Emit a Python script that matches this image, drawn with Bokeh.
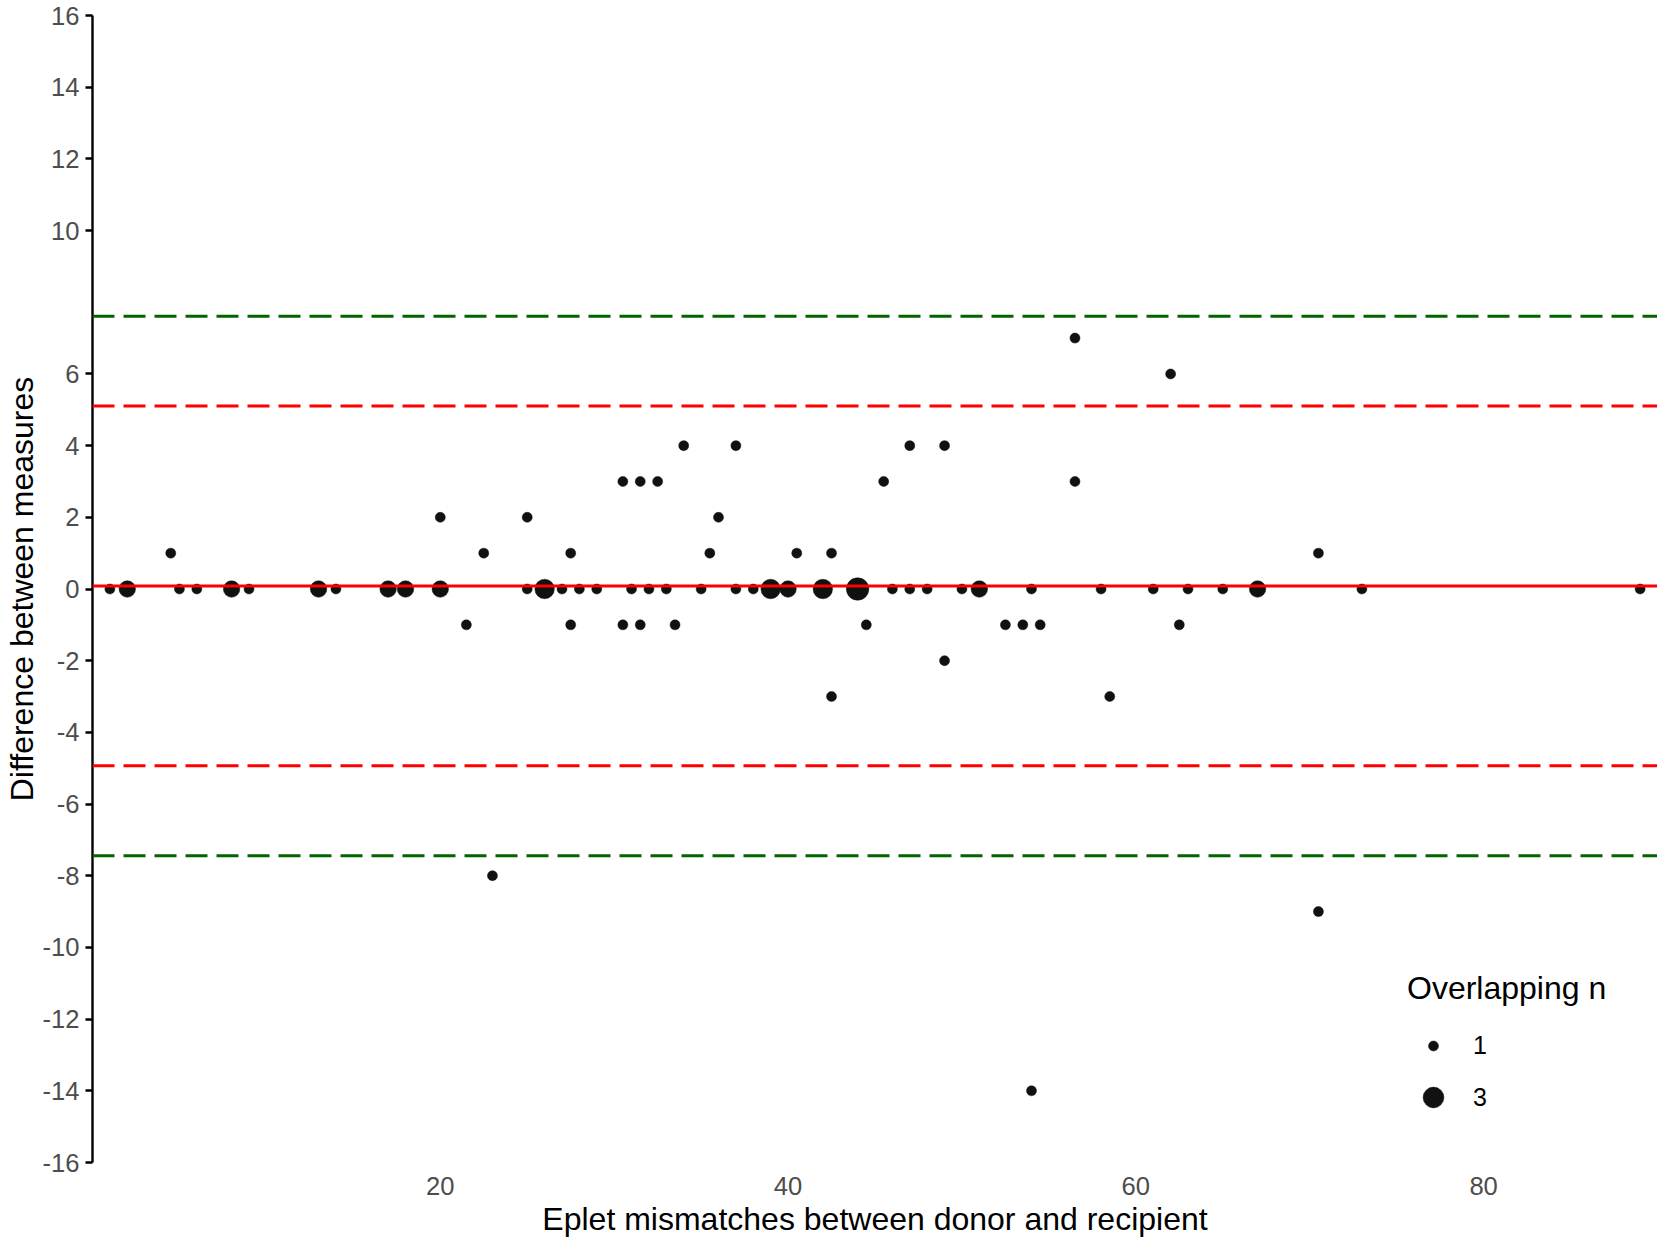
import numpy as np
from bokeh.plotting import figure
from bokeh.models import ColumnDataSource, Span, FixedTicker, Legend, LegendItem, Range1d
from bokeh.embed import file_html
from bokeh.resources import INLINE

# ---------------- data ----------------
# mean eplet mismatches (x), difference between measures (y), number of overlapping cases
mean_x = [1, 2, 5, 6, 8, 9, 13, 14, 17, 18, 20, 25, 26, 27, 28, 29, 31, 32, 33, 35,
          37, 38, 39, 40, 42, 44, 46, 47, 48, 50, 51, 54, 58, 61, 63, 65, 67, 73, 89,
          4.5, 22.5, 27.5, 35.5, 40.5, 42.5, 70.5,
          21.5, 27.5, 30.5, 31.5, 33.5, 44.5, 52.5, 53.5, 54.5, 62.5,
          20, 25, 36,
          49,
          30.5, 31.5, 32.5, 45.5, 56.5,
          42.5, 58.5,
          34, 37, 47, 49,
          62,
          56.5,
          23,
          70.5,
          54]
diff = [0] * 39 + \
       [1] * 7 + \
       [-1] * 10 + \
       [2] * 3 + \
       [-2] * 1 + \
       [3] * 5 + \
       [-3] * 2 + \
       [4] * 4 + \
       [6] * 1 + \
       [7] * 1 + \
       [-8] * 1 + \
       [-9] * 1 + \
       [-14] * 1
overlap_n = [1, 2, 1, 1, 2, 1, 2, 1, 2, 2, 2, 1, 3, 1, 1, 1, 1, 1, 1, 1,
             1, 1, 3, 2, 3, 4, 1, 1, 1, 1, 2, 1, 1, 1, 1, 1, 2, 1, 1] + [1] * 37

y_ticks = [-16, -14, -12, -10, -8, -6, -4, -2, 0, 2, 4, 6, 10, 12, 14, 16]
x_ticks = [20, 40, 60, 80]
legend_breaks = [1, 3]

x_label = "Eplet mismatches between donor and recipient"
y_label = "Difference between measures"
legend_title = "Overlapping n"

# Bland-Altman statistics from the (expanded) data
all_diffs = np.repeat(np.array(diff, dtype=float), overlap_n)
bias = all_diffs.mean()
sd = all_diffs.std(ddof=1)
inner_k, outer_k = 2, 3

# ---------------- styling ----------------
FONT = "Liberation Sans"
size_for_n = {1: 10, 2: 16.5, 3: 19.5, 4: 22.5}

p = figure(width=1657, height=1239, output_backend="svg", toolbar_location=None,
           x_range=Range1d(0, 90), y_range=Range1d(-16, 16),
           min_border_left=87, min_border_right=0, min_border_top=15, min_border_bottom=70,
           x_axis_label=x_label, y_axis_label=y_label)
p.outline_line_color = None
p.grid.visible = False
p.background_fill_color = "white"
p.border_fill_color = "white"

# y axis
ya = p.yaxis[0]
ya.ticker = FixedTicker(ticks=y_ticks)
ya.major_label_overrides = {t: str(t) for t in y_ticks}
ya.axis_line_color = "black"
ya.axis_line_width = 2.4
ya.major_tick_line_color = "black"
ya.major_tick_line_width = 2.4
ya.major_tick_in = 0
ya.major_tick_out = 7
ya.minor_tick_line_color = None
ya.major_label_standoff = 6
ya.major_label_text_font = FONT
ya.major_label_text_font_size = "25.6px"
ya.major_label_text_color = "#4D4D4D"
ya.axis_label_text_font = FONT
ya.axis_label_text_font_size = "32px"
ya.axis_label_text_font_style = "normal"
ya.axis_label_text_color = "black"
ya.axis_label_standoff = 0

# x axis
xa = p.xaxis[0]
xa.ticker = FixedTicker(ticks=x_ticks)
xa.major_label_overrides = {t: str(t) for t in x_ticks}
xa.axis_line_color = None
xa.major_tick_line_color = None
xa.minor_tick_line_color = None
xa.major_tick_in = 0
xa.major_tick_out = 0
xa.major_label_standoff = 14
xa.major_label_text_font = FONT
xa.major_label_text_font_size = "25.6px"
xa.major_label_text_color = "#4D4D4D"
xa.axis_label_text_font = FONT
xa.axis_label_text_font_size = "32px"
xa.axis_label_text_font_style = "normal"
xa.axis_label_text_color = "black"
xa.axis_label_standoff = 3

# points, one renderer per overlap count
renderers = {}
for n in sorted(set(overlap_n)):
    idx = [i for i, v in enumerate(overlap_n) if v == n]
    src = ColumnDataSource(dict(
        x=[mean_x[i] for i in idx],
        y=[diff[i] for i in idx],
        s=[size_for_n[n]] * len(idx),
    ))
    renderers[n] = p.scatter("x", "y", size="s", source=src, marker="circle",
                             fill_color="#111111", line_color="#111111", line_width=0.5)

# reference lines
dash = "22 9"
for k, color in ((outer_k, "#006400"), (inner_k, "#FF0000")):
    for sgn in (1, -1):
        p.add_layout(Span(location=bias + sgn * k * sd, dimension="width",
                          line_color=color, line_width=3, line_dash=dash))
p.add_layout(Span(location=bias, dimension="width", line_color="#FF0000", line_width=3))

# legend (two blocks so each key gets its own symbol size)
common = dict(border_line_color=None, background_fill_alpha=0, padding=0, margin=0,
              spacing=0, label_standoff=14, label_text_font=FONT,
              label_text_font_size="25px", label_text_color="black",
              label_text_baseline="middle", glyph_width=52)
leg1 = Legend(items=[LegendItem(label=str(legend_breaks[0]), renderers=[renderers[legend_breaks[0]]])],
              location=(1315, 102), glyph_height=25, label_height=25,
              title=legend_title, title_text_font=FONT, title_text_font_size="32px",
              title_text_font_style="normal", title_text_color="black", title_standoff=24,
              **common)
leg3 = Legend(items=[LegendItem(label=str(legend_breaks[1]), renderers=[renderers[legend_breaks[1]]])],
              location=(1315, 39), glyph_height=52, label_height=25, **common)
p.add_layout(leg1)
p.add_layout(leg3)

open("out.html", "w").write(file_html(p, INLINE))
